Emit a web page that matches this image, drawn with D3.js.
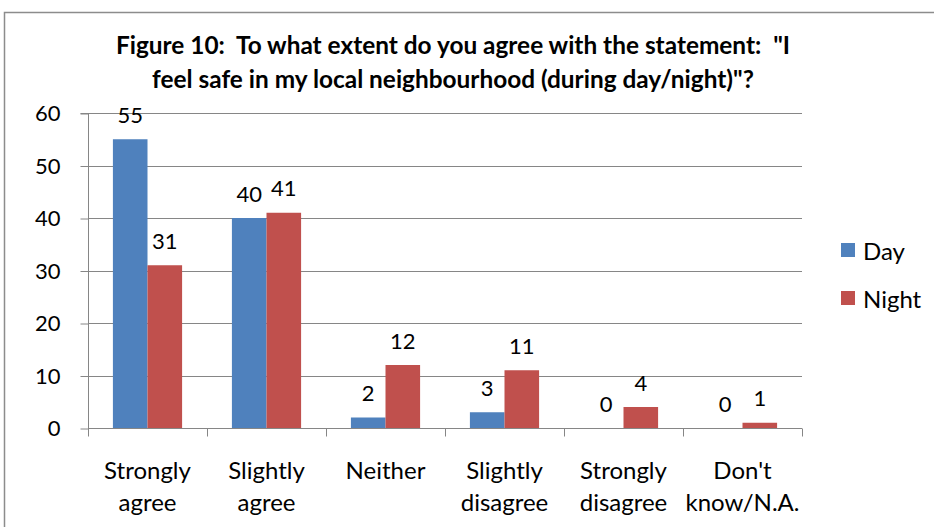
<!DOCTYPE html>
<html>
<head>
<meta charset="utf-8">
<script src="https://cdn.jsdelivr.net/npm/d3@7"></script>
<style>
  body { margin: 0; background: #fff; }
  svg { display: block; font-family: Lato, "Open Sans", sans-serif; }
  text { white-space: pre; }
</style>
</head>
<body>
<svg id="chart" width="934" height="527"></svg>
<script>
// Survey responses: feeling safe in the local neighbourhood
const categories = [["Strongly", "agree"], ["Slightly", "agree"], ["Neither"], ["Slightly", "disagree"], ["Strongly", "disagree"], ["Don't", "know/N.A."]];
const seriesNames = ["Day", "Night"];
const dayValues = [55, 40, 2, 3, 0, 0];
const nightValues = [31, 41, 12, 11, 4, 1];
const yTicks = [0, 10, 20, 30, 40, 50, 60];
const colors = ["#4F81BD", "#C0504D"];
const titleLines = ["Figure 10:  To what extent do you agree with the statement:  \"I", "feel safe in my local neighbourhood (during day/night)\"?"];

const svg = d3.select("#chart");

// outer chart frame
svg.append("rect").attr("x", 4.5).attr("y", 12.5).attr("width", 940).attr("height", 540)
  .attr("fill", "#fff").attr("stroke", "#8c8c8c").attr("stroke-width", 1.5);

const plot = { left: 88, right: 802, top: 113, bottom: 428 };

const x = d3.scaleBand().domain(d3.range(categories.length)).range([plot.left, plot.right]).paddingInner(0).paddingOuter(0);
const inner = d3.scaleBand().domain(d3.range(seriesNames.length)).range([0, x.bandwidth()]).paddingInner(0).paddingOuter(0.72);
const y = d3.scaleLinear().domain([0, 60]).range([plot.bottom, plot.top]);

// gridlines
svg.append("g").selectAll("line").data(yTicks.filter(d => d > 0)).join("line")
  .attr("x1", plot.left).attr("x2", plot.right)
  .attr("y1", d => Math.round(y(d)) + 0.5).attr("y2", d => Math.round(y(d)) + 0.5)
  .attr("stroke", "#868686").attr("stroke-width", 1);

// bars and value labels
const series = [dayValues, nightValues];
series.forEach((vals, s) => {
  svg.append("g").selectAll("rect").data(vals).join("rect")
    .attr("x", (d, i) => x(i) + inner(s))
    .attr("y", d => y(d))
    .attr("width", inner.bandwidth())
    .attr("height", d => y(0) - y(d))
    .attr("fill", colors[s]);
  svg.append("g").selectAll("text").data(vals).join("text")
    .attr("x", (d, i) => x(i) + inner(s) + inner.bandwidth() / 2)
    .attr("y", d => y(d) - 25)
    .attr("text-anchor", "middle").attr("dominant-baseline", "central")
    .attr("font-size", 22).attr("fill", "#000")
    .text(d => d);
});

// y axis
const yAxis = d3.axisLeft(y).tickValues(yTicks).tickSize(8).tickPadding(20);
const gy = svg.append("g").attr("transform", `translate(${plot.left + 0.5},0.5)`).call(yAxis);
gy.select(".domain").attr("stroke", "#868686").attr("d", `M-8,${plot.top}H0V${plot.bottom}`);
gy.selectAll(".tick line").attr("stroke", "#868686");
gy.selectAll(".tick text").attr("font-size", 22).attr("font-family", "Lato, sans-serif").attr("fill", "#000");

// x axis
const gx = svg.append("g").attr("transform", `translate(0,${plot.bottom + 0.5})`);
gx.append("line").attr("x1", plot.left).attr("x2", plot.right).attr("stroke", "#868686");
gx.selectAll(".xt").data(d3.range(categories.length + 1)).join("line")
  .attr("x1", i => Math.round(i < categories.length ? x(i) : plot.right) + 0.5)
  .attr("x2", i => Math.round(i < categories.length ? x(i) : plot.right) + 0.5)
  .attr("y1", 0).attr("y2", 8).attr("stroke", "#868686");
const labels = svg.append("g").selectAll("text").data(categories).join("text")
  .attr("text-anchor", "middle").attr("font-size", 24).attr("fill", "#000");
labels.each(function(lines, i) {
  const t = d3.select(this);
  lines.forEach((ln, k) => {
    t.append("tspan").attr("x", x(i) + x.bandwidth() / 2).attr("y", 479 + k * 32).text(ln);
  });
});

// title
svg.append("text").attr("text-anchor", "middle").attr("font-size", 24.4).attr("font-weight", "bold").attr("fill", "#000")
  .selectAll("tspan").data(titleLines).join("tspan")
  .attr("x", 453).attr("y", (d, i) => 54 + i * 34).text(d => d);

// legend
const legend = svg.append("g");
seriesNames.forEach((name, i) => {
  legend.append("rect").attr("x", 841).attr("y", 243 + i * 48).attr("width", 14).attr("height", 14).attr("fill", colors[i]);
  legend.append("text").attr("x", 863).attr("y", 250 + i * 48).attr("dominant-baseline", "central")
    .attr("font-size", 24).attr("fill", "#000").text(name);
});
</script>
</body>
</html>
